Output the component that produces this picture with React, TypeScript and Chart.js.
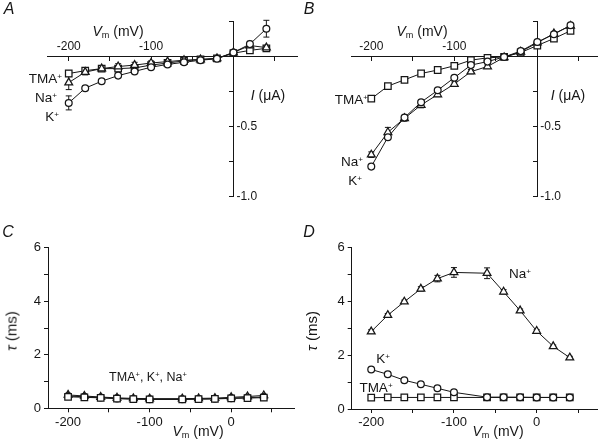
import React, { useEffect, useRef } from 'react';
import { Chart, registerables } from 'chart.js';

Chart.register(...registerables);

// ---------- data ----------
const ivVoltages = [-200, -180, -160, -140, -120, -100, -80, -60, -40, -20, 0, 20, 40];

const aTMA = [-0.12, -0.1, -0.085, -0.085, -0.08, -0.06, -0.045, -0.03, -0.02, -0.012, 0.025, 0.045, 0.06];
const aNa = [-0.185, -0.11, -0.085, -0.07, -0.06, -0.045, -0.035, -0.025, -0.02, -0.012, 0.03, 0.08, 0.065];
const aK = [-0.33, -0.225, -0.175, -0.135, -0.105, -0.075, -0.055, -0.04, -0.025, -0.015, 0.03, 0.09, 0.2];
const aTMAErr = [0.02, 0.015, 0.01, 0.015, 0.015, 0.01, 0, 0, 0, 0, 0, 0.015, 0.01];
const aNaErr = [0.05, 0.02, 0.015, 0.02, 0.02, 0.015, 0, 0, 0, 0, 0, 0.02, 0.01];
const aKErr = [0.05, 0.015, 0.01, 0.01, 0.01, 0.01, 0, 0, 0, 0, 0.01, 0.02, 0.06];

const bTMA = [-0.3, -0.21, -0.165, -0.12, -0.095, -0.065, -0.025, -0.008, -0.002, 0.03, 0.08, 0.13, 0.185];
const bNa = [-0.7, -0.54, -0.44, -0.345, -0.27, -0.195, -0.107, -0.07, -0.005, 0.035, 0.1, 0.165, 0.22];
const bK = [-0.785, -0.575, -0.435, -0.325, -0.24, -0.15, -0.06, -0.035, -0.002, 0.04, 0.105, 0.16, 0.225];
const bNaErr = [0.02, 0.035, 0.02, 0.02, 0.015, 0.015, 0.015, 0.01, 0, 0, 0, 0.015, 0.01];

const tauVoltages = [-200, -180, -160, -140, -120, -100, -60, -40, -20, 0, 20, 40];

const cTMA = [0.43, 0.41, 0.39, 0.36, 0.34, 0.33, 0.33, 0.34, 0.35, 0.37, 0.38, 0.4];
const cK = [0.46, 0.43, 0.4, 0.37, 0.35, 0.34, 0.34, 0.35, 0.36, 0.38, 0.4, 0.42];
const cNa = [0.5, 0.46, 0.42, 0.39, 0.37, 0.36, 0.36, 0.37, 0.38, 0.41, 0.44, 0.48];

const dNa = [2.88, 3.49, 3.99, 4.47, 4.85, 5.08, 5.05, 4.36, 3.66, 2.9, 2.33, 1.91];
const dK = [1.47, 1.29, 1.07, 0.92, 0.77, 0.62, 0.44, 0.44, 0.44, 0.43, 0.43, 0.43];
const dTMA = [0.42, 0.43, 0.43, 0.43, 0.43, 0.43, 0.43, 0.43, 0.43, 0.43, 0.43, 0.43];
const dNaErr = [0.07, 0.06, 0.06, 0.08, 0.12, 0.18, 0.2, 0.08, 0.06, 0.05, 0.05, 0.05];

// ---------- ticks ----------
const ivXTicks = [-200, -150, -100, -50, 50];
const ivXLabels = [-200, -100];
const ivYTicks = [0.25, -0.25, -0.5, -0.75, -1.0];
const ivYLabels = [-0.5, -1.0];
const tauXTicks = [-200, -150, -100, -50, 0, 50];
const tauXLabels = [-200, -100, 0];
const tauYTicks = [0, 1, 2, 3, 4, 5, 6];
const tauYLabels = [0, 2, 4, 6];

// ---------- styles ----------
const FONT = "'Liberation Sans', Arial, Helvetica, sans-serif";
const INK = '#161616';

type Marker = 'circle' | 'rect' | 'triangle';
const markerRadius: Record<Marker, number> = { circle: 3.4, rect: 4.6, triangle: 4.5 };

function series(xs: number[], ys: number[], marker: Marker, errors?: number[]) {
  return {
    data: xs.map((x, i) => ({ x, y: ys[i] })),
    showLine: true,
    borderColor: INK,
    borderWidth: 1,
    pointStyle: marker,
    pointRadius: markerRadius[marker],
    pointBackgroundColor: '#ffffff',
    pointBorderColor: INK,
    pointBorderWidth: 1.25,
    tension: 0,
    fill: false,
    clip: false,
    errors,
  } as any;
}

const errorBarPlugin = {
  id: 'errorBars',
  beforeDatasetsDraw(chart: any) {
    const ctx = chart.ctx;
    const xs = chart.scales.x;
    const ys = chart.scales.y;
    chart.data.datasets.forEach((ds: any) => {
      if (!ds.errors) return;
      ctx.save();
      ctx.strokeStyle = INK;
      ctx.lineWidth = 1;
      ds.data.forEach((p: any, i: number) => {
        const e = ds.errors[i];
        if (!e) return;
        const px = xs.getPixelForValue(p.x);
        const top = ys.getPixelForValue(p.y + e);
        const bot = ys.getPixelForValue(p.y - e);
        ctx.beginPath();
        ctx.moveTo(px, top);
        ctx.lineTo(px, bot);
        ctx.moveTo(px - 3, top);
        ctx.lineTo(px + 3, top);
        ctx.moveTo(px - 3, bot);
        ctx.lineTo(px + 3, bot);
        ctx.stroke();
      });
      ctx.restore();
    });
  },
};

const crossLabelsPlugin = {
  id: 'crossLabels',
  afterDraw(chart: any, _args: any, opts: any) {
    if (!opts || !opts.x) return;
    const ctx = chart.ctx;
    const xs = chart.scales.x;
    const ys = chart.scales.y;
    const x0 = xs.getPixelForValue(0);
    const y0 = ys.getPixelForValue(0);
    ctx.save();
    ctx.fillStyle = INK;
    ctx.font = `12px ${FONT}`;
    ctx.textAlign = 'center';
    ctx.textBaseline = 'middle';
    opts.x.forEach((v: number) => ctx.fillText(String(v), xs.getPixelForValue(v), y0 - 10));
    ctx.textAlign = 'left';
    opts.y.forEach((v: number) => ctx.fillText(v.toFixed(1), x0 + 3, ys.getPixelForValue(v)));
    ctx.restore();
  },
};

function setTicks(values: number[]) {
  return (scale: any) => {
    scale.ticks = values.map((value) => ({ value }));
  };
}

const axisGrid = { display: true, drawOnChartArea: false, drawTicks: true, tickLength: 4, color: INK, tickColor: INK, lineWidth: 1 };
const axisBorder = { display: true, color: INK, width: 1 };

function ivConfig(datasets: any[], xmin: number, xmax: number, padding: any) {
  return {
    type: 'scatter',
    data: { datasets },
    options: {
      animation: false,
      responsive: false,
      maintainAspectRatio: false,
      events: [],
      layout: { padding },
      plugins: {
        legend: { display: false },
        tooltip: { enabled: false },
        crossLabels: { x: ivXLabels, y: ivYLabels },
      },
      scales: {
        x: {
          type: 'linear',
          min: xmin,
          max: xmax,
          position: { y: 0 },
          afterBuildTicks: setTicks(ivXTicks),
          ticks: { display: false, autoSkip: false },
          grid: axisGrid,
          border: axisBorder,
        },
        y: {
          type: 'linear',
          min: -1.0,
          max: 0.25,
          position: { x: 0 },
          afterBuildTicks: setTicks(ivYTicks),
          ticks: { display: false, autoSkip: false },
          grid: axisGrid,
          border: axisBorder,
        },
      },
    },
    plugins: [errorBarPlugin, crossLabelsPlugin],
  } as any;
}

function tauConfig(datasets: any[], xmin: number, xmax: number, padding: any) {
  return {
    type: 'scatter',
    data: { datasets },
    options: {
      animation: false,
      responsive: false,
      maintainAspectRatio: false,
      events: [],
      layout: { padding },
      plugins: { legend: { display: false }, tooltip: { enabled: false } },
      scales: {
        x: {
          type: 'linear',
          position: 'bottom',
          min: xmin,
          max: xmax,
          afterBuildTicks: setTicks(tauXTicks),
          afterFit: (s: any) => { s.height = 20; },
          ticks: {
            autoSkip: false,
            maxRotation: 0,
            padding: 2,
            color: INK,
            font: { family: FONT, size: 13 },
            callback: (v: any) => (tauXLabels.includes(Number(v)) ? String(v) : ''),
          },
          grid: axisGrid,
          border: axisBorder,
        },
        y: {
          type: 'linear',
          position: 'left',
          min: 0,
          max: 6,
          afterBuildTicks: setTicks(tauYTicks),
          afterFit: (s: any) => { s.width = 30; },
          ticks: {
            autoSkip: false,
            padding: 3,
            color: INK,
            font: { family: FONT, size: 13 },
            callback: (v: any) => (tauYLabels.includes(Number(v)) ? String(v) : ''),
          },
          grid: axisGrid,
          border: axisBorder,
        },
      },
    },
    plugins: [errorBarPlugin],
  } as any;
}

function ChartCanvas({ left, top, width, height, make }: { left: number; top: number; width: number; height: number; make: () => any }) {
  const ref = useRef<HTMLCanvasElement>(null);
  useEffect(() => {
    const chart = new Chart(ref.current as HTMLCanvasElement, make());
    return () => chart.destroy();
  }, []);
  return (
    <canvas
      ref={ref}
      width={width}
      height={height}
      style={{ position: 'absolute', left, top, width, height }}
    />
  );
}

type TextProps = { x: number; y: number; size?: number; align?: 'center' | 'right' | 'left'; rotate?: boolean; italic?: boolean; children: React.ReactNode };
function Label({ x, y, size = 14, align = 'center', rotate, italic, children }: TextProps) {
  const tx = align === 'center' ? '-50%' : align === 'right' ? '-100%' : '0';
  return (
    <div
      style={{
        position: 'absolute',
        left: x,
        top: y,
        transform: `translate(${tx}, -50%)${rotate ? ' rotate(-90deg)' : ''}`,
        fontFamily: FONT,
        fontSize: size,
        fontStyle: italic ? 'italic' : 'normal',
        lineHeight: 1,
        whiteSpace: 'nowrap',
        color: INK,
      }}
    >
      {children}
    </div>
  );
}

const Sup = ({ children }: { children: React.ReactNode }) => (
  <span style={{ fontSize: '0.6em', verticalAlign: '0.55em' }}>{children}</span>
);
const Sub = ({ children }: { children: React.ReactNode }) => (
  <span style={{ fontSize: '0.65em', verticalAlign: '-0.3em' }}>{children}</span>
);
const Vm = () => (
  <>
    <i>V</i>
    <Sub>m</Sub> (mV)
  </>
);

export default function App() {
  return (
    <div style={{ position: 'fixed', left: 0, top: 0, width: 603, height: 448, background: '#fff', overflow: 'hidden' }}>
      <ChartCanvas
        left={0}
        top={0}
        width={303}
        height={225}
        make={() =>
          ivConfig(
            [
              series(ivVoltages, aK, 'circle', aKErr),
              series(ivVoltages, aNa, 'triangle', aNaErr),
              series(ivVoltages, aTMA, 'rect', aTMAErr),
            ],
            -226.4,
            77.2,
            { left: 47, right: 6, top: 21.7, bottom: 28.3 }
          )
        }
      />
      <ChartCanvas
        left={300}
        top={0}
        width={303}
        height={225}
        make={() =>
          ivConfig(
            [
              series(ivVoltages, bK, 'circle'),
              series(ivVoltages, bNa, 'triangle', bNaErr),
              series(ivVoltages, bTMA, 'rect'),
            ],
            -223.6,
            71.9,
            { left: 51.7, right: 6, top: 21.7, bottom: 28.3 }
          )
        }
      />
      <ChartCanvas
        left={0}
        top={225}
        width={300}
        height={223}
        make={() =>
          tauConfig(
            [
              series(tauVoltages, cTMA, 'rect'),
              series(tauVoltages, cK, 'circle'),
              series(tauVoltages, cNa, 'triangle'),
            ],
            -224.6,
            77.2,
            { left: 18, right: 3, top: 22.7, bottom: 19.7 }
          )
        }
      />
      <ChartCanvas
        left={300}
        top={225}
        width={303}
        height={223}
        make={() =>
          tauConfig(
            [
              series(tauVoltages, dNa, 'triangle', dNaErr),
              series(tauVoltages, dK, 'circle'),
              series(tauVoltages, dTMA, 'rect'),
            ],
            -223.6,
            73.1,
            { left: 21.7, right: 5, top: 22.7, bottom: 19 }
          )
        }
      />

      {/* panel letters */}
      <Label x={9} y={9} size={16} italic>A</Label>
      <Label x={309} y={9} size={16} italic>B</Label>
      <Label x={8} y={232} size={16} italic>C</Label>
      <Label x={309} y={232} size={16} italic>D</Label>

      {/* panel A annotations */}
      <Label x={118} y={32}><Vm /></Label>
      <Label x={268} y={95}><i>I</i> (μA)</Label>
      <Label x={62} y={79} size={13.5} align="right">TMA<Sup>+</Sup></Label>
      <Label x={57} y={98} size={13.5} align="right">Na<Sup>+</Sup></Label>
      <Label x={59} y={117} size={13.5} align="right">K<Sup>+</Sup></Label>

      {/* panel B annotations */}
      <Label x={422} y={32}><Vm /></Label>
      <Label x={568} y={95}><i>I</i> (μA)</Label>
      <Label x={368} y={100} size={13.5} align="right">TMA<Sup>+</Sup></Label>
      <Label x={363} y={162} size={13.5} align="right">Na<Sup>+</Sup></Label>
      <Label x={362} y={181} size={13.5} align="right">K<Sup>+</Sup></Label>

      {/* panel C annotations */}
      <Label x={11} y={331} size={15} rotate><i>τ</i> (ms)</Label>
      <Label x={198} y={432}><Vm /></Label>
      <Label x={148} y={377} size={12.5}>TMA<Sup>+</Sup>, K<Sup>+</Sup>, Na<Sup>+</Sup></Label>

      {/* panel D annotations */}
      <Label x={311} y={331} size={15} rotate><i>τ</i> (ms)</Label>
      <Label x={498} y={432}><Vm /></Label>
      <Label x={520} y={274} size={13.5}>Na<Sup>+</Sup></Label>
      <Label x={383} y={359} size={13.5}>K<Sup>+</Sup></Label>
      <Label x={376} y={388} size={13.5}>TMA<Sup>+</Sup></Label>
    </div>
  );
}
